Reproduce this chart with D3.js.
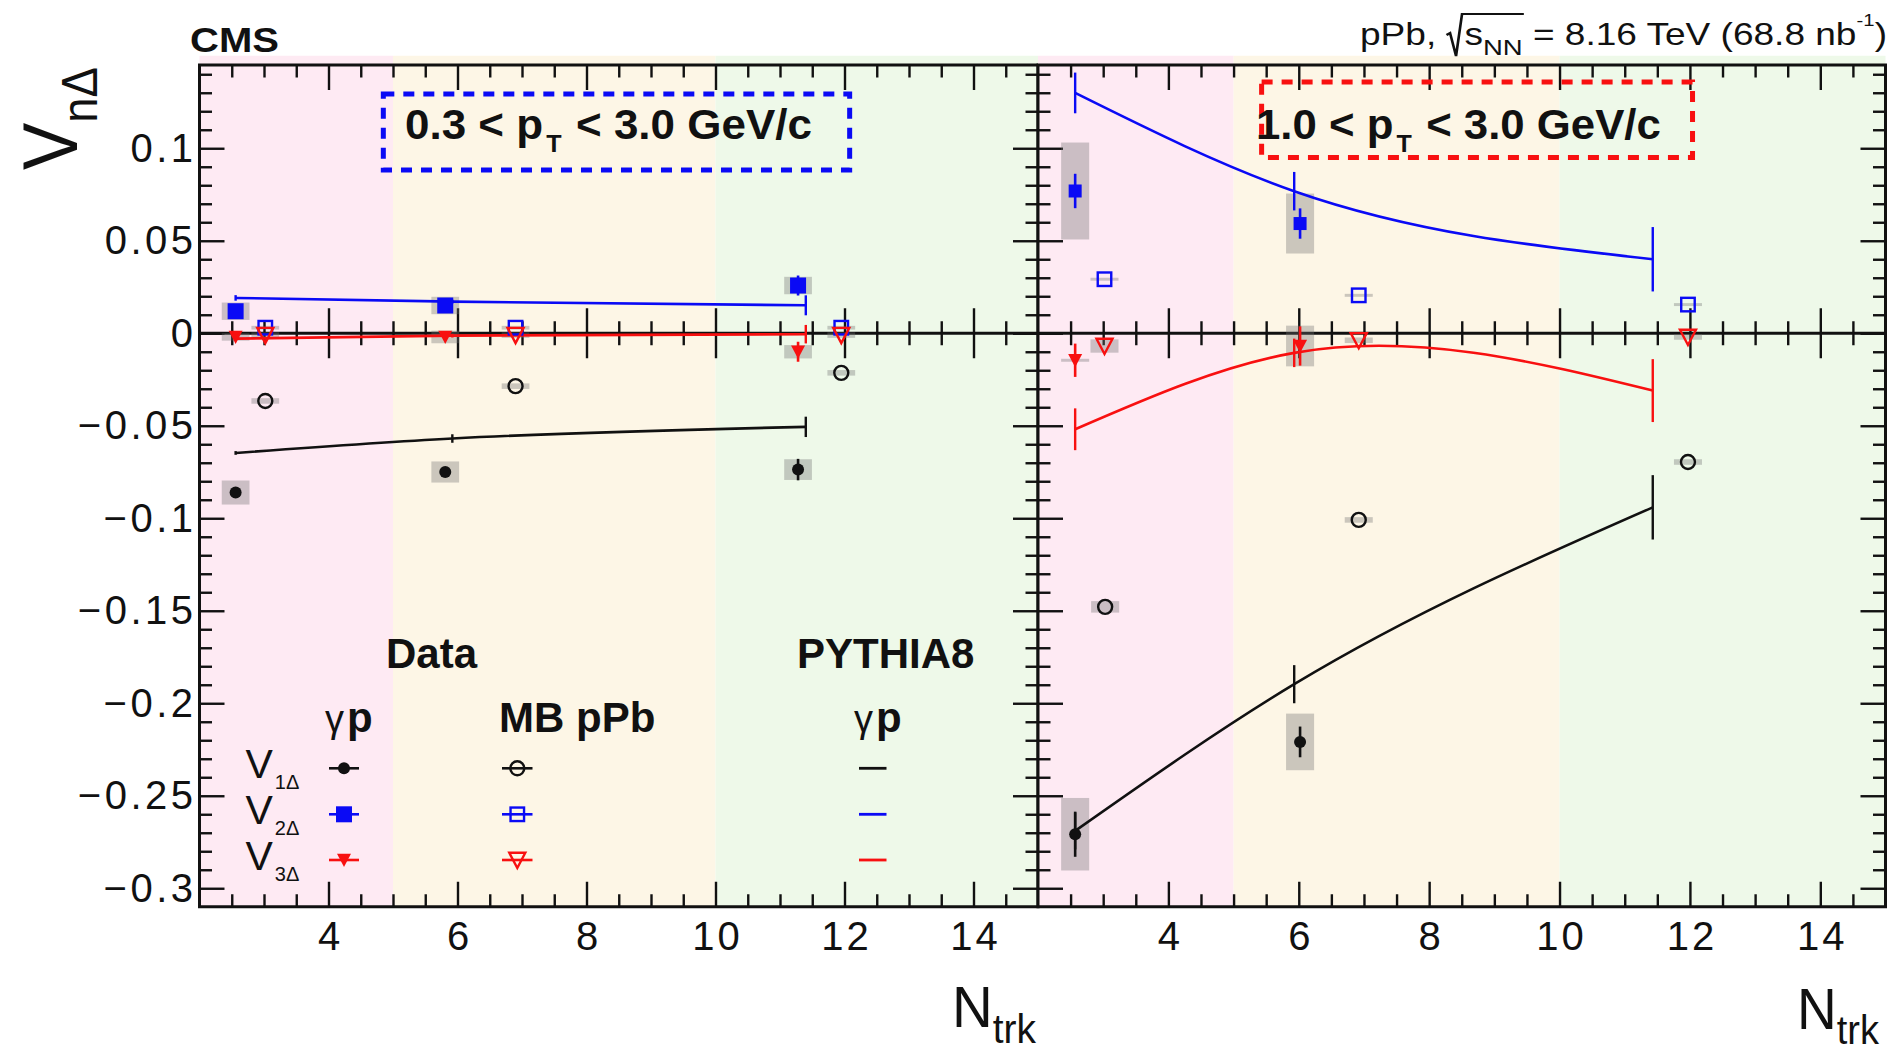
<!DOCTYPE html>
<html>
<head>
<meta charset="utf-8">
<script src="https://cdn.jsdelivr.net/npm/d3@7"></script>
<style>
  html, body { margin: 0; padding: 0; background: #fff; }
  svg { display: block; }
  text { font-family: "Liberation Sans", Arial, Helvetica, sans-serif; white-space: pre; }
</style>
</head>
<body>
<svg id="chart" width="1892" height="1053"></svg>
<script>
// ---------------- axis ticks ----------------
const xTicks = [4, 6, 8, 10, 12, 14];
const yTicks = [-0.3, -0.25, -0.2, -0.15, -0.1, -0.05, 0, 0.05, 0.1];
const yTickLabels = ["\u22120.3", "\u22120.25", "\u22120.2", "\u22120.15", "\u22120.1", "\u22120.05", "0", "0.05", "0.1"];

// multiplicity classes shaded in the background
const bandEdges = [[2, 5], [5, 10], [10, 15]];
const bandColors = ["#feeaf3", "#fdf6e6", "#eef9e9"];

// ---------------- 0.3 < pT < 3.0 GeV/c ----------------
// data, gamma p: [Ntrk, value, stat, sys]
const lowDataV1 = [[2.56, -0.0861, 0.002, 0.0065], [5.81, -0.0750, 0.002, 0.0057], [11.28, -0.0737, 0.0058, 0.0056]];
const lowDataV2 = [[2.56, 0.0119, 0.002, 0.0047], [5.81, 0.0150, 0.002, 0.0047], [11.28, 0.0258, 0.0054, 0.0047]];
const lowDataV3 = [[2.56, -0.0020, 0.002, 0.0020], [5.81, -0.0020, 0.002, 0.0034], [11.28, -0.0100, 0.0054, 0.0036]];
// data, minimum-bias pPb
const lowMbV1 = [[3.02, -0.0366, 0.001, 0.0015], [6.90, -0.0286, 0.001, 0.0015], [11.95, -0.0214, 0.001, 0.0015]];
const lowMbV2 = [[3.02, 0.0030, 0.001, 0.0010], [6.90, 0.0030, 0.001, 0.0010], [11.95, 0.0030, 0.001, 0.0010]];
const lowMbV3 = [[3.02, -0.0010, 0.001, 0.0015], [6.90, -0.0010, 0.001, 0.0015], [11.95, -0.0010, 0.001, 0.0015]];
// PYTHIA8 gamma p: [Ntrk, value, stat]
const lowPyV1 = [[2.56, -0.0647, 0.0010], [5.92, -0.0569, 0.0023], [11.40, -0.0506, 0.0055]];
const lowPyV2 = [[2.56, 0.0191, 0.0015], [5.92, 0.0171, 0.0010], [11.40, 0.0151, 0.0054]];
const lowPyV3 = [[2.56, -0.0029, 0.0010], [5.92, -0.0013, 0.0010], [11.40, -0.0005, 0.0050]];

// ---------------- 1.0 < pT < 3.0 GeV/c ----------------
const highDataV1 = [[2.57, -0.2708, 0.0122, 0.0196], [6.02, -0.2209, 0.0083, 0.0153]];
const highDataV2 = [[2.57, 0.0769, 0.0093, 0.0262], [6.02, 0.0593, 0.0082, 0.0162]];
const highDataV3 = [[2.57, -0.0146, 0.0090, 0.0008], [6.02, -0.0069, 0.0106, 0.0110]];
const highMbV1 = [[3.03, -0.1479, 0.001, 0.0031], [6.92, -0.1009, 0.001, 0.0015], [11.97, -0.0696, 0.001, 0.0015]];
const highMbV2 = [[3.02, 0.0292, 0.001, 0.0008], [6.92, 0.0205, 0.001, 0.0008], [11.97, 0.0155, 0.001, 0.0008]];
const highMbV3 = [[3.02, -0.0069, 0.001, 0.0036], [6.92, -0.0038, 0.001, 0.0015], [11.97, -0.0020, 0.001, 0.0015]];
const highPyV1 = [[2.57, -0.2690, 0.0100], [5.93, -0.1897, 0.0103], [11.43, -0.0941, 0.0174]];
const highPyV2 = [[2.57, 0.1299, 0.0110], [5.93, 0.0768, 0.0104], [11.43, 0.0400, 0.0174]];
const highPyV3 = [[2.57, -0.0519, 0.0113], [5.93, -0.0106, 0.0077], [11.43, -0.0310, 0.0170]];

// ---------------- styles ----------------
const harmonicColors = ["#111111", "#0a0af5", "#f81010"];
const harmonicShapes = ["circle", "square", "triangle"];
const INK = "#111";
const SYS_DX = 0.215;         // half-width of systematic boxes in Ntrk units
const SYS_FILL = "#727272";
const openSizes = [14, 13.5, 16];

const svg = d3.select("#chart");
const y = d3.scaleLinear().domain([-0.31, 0.145]).range([906.75, 65]);
const yTop = y.range()[1], yBottom = y.range()[0];

const panels = [
  { range: [199.5, 1038], data: [lowDataV1, lowDataV2, lowDataV3], mb: [lowMbV1, lowMbV2, lowMbV3],
    py: [lowPyV1, lowPyV2, lowPyV3], squareSize: 16, yLabels: true },
  { range: [1038, 1885.5], data: [highDataV1, highDataV2, highDataV3], mb: [highMbV1, highMbV2, highMbV3],
    py: [highPyV1, highPyV2, highPyV3], squareSize: 13, yLabels: false }
];

const xMinor = d3.range(2.5, 15, 0.5).filter(v => !xTicks.includes(v));
const yMinor = d3.range(-30, 15).map(i => i / 100).filter(v => !yTicks.some(t => Math.abs(t - v) < 1e-9));

// natural cubic spline y(x) through the points, emitted as Bezier segments
function curveNaturalX(context) {
  let pts = [];
  return {
    areaStart() {}, areaEnd() {},
    lineStart() { pts = []; },
    point(px, py) { pts.push([+px, +py]); },
    lineEnd() {
      const n = pts.length;
      if (!n) return;
      context.moveTo(pts[0][0], pts[0][1]);
      if (n === 2) { context.lineTo(pts[1][0], pts[1][1]); return; }
      const h = [], s = [];
      for (let i = 0; i < n - 1; i++) {
        h.push(pts[i + 1][0] - pts[i][0]);
        s.push((pts[i + 1][1] - pts[i][1]) / h[i]);
      }
      const a = [], b = [], c = [], r = [];
      for (let i = 1; i < n - 1; i++) {
        a.push(h[i - 1]); b.push(2 * (h[i - 1] + h[i])); c.push(h[i]); r.push(6 * (s[i] - s[i - 1]));
      }
      const m = b.length;
      for (let i = 1; i < m; i++) {
        const w = a[i] / b[i - 1];
        b[i] -= w * c[i - 1]; r[i] -= w * r[i - 1];
      }
      const sol = new Array(m);
      sol[m - 1] = r[m - 1] / b[m - 1];
      for (let i = m - 2; i >= 0; i--) sol[i] = (r[i] - c[i] * sol[i + 1]) / b[i];
      const M = [0, ...sol, 0];
      for (let i = 0; i < n - 1; i++) {
        const d0 = s[i] - h[i] * (2 * M[i] + M[i + 1]) / 6;
        const d1 = s[i] + h[i] * (M[i] + 2 * M[i + 1]) / 6;
        context.bezierCurveTo(
          pts[i][0] + h[i] / 3, pts[i][1] + d0 * h[i] / 3,
          pts[i + 1][0] - h[i] / 3, pts[i + 1][1] - d1 * h[i] / 3,
          pts[i + 1][0], pts[i + 1][1]);
      }
    }
  };
}

function tickGroup(parent, axis, transform) {
  const g = parent.append("g").attr("transform", transform).call(axis);
  g.select(".domain").remove();
  g.selectAll(".tick line").attr("stroke", INK).attr("stroke-width", 2.4);
  return g;
}

function marker(g, shape, filled, cx, cy, color, s) {
  let el;
  if (shape === "circle") {
    el = g.append("circle").attr("cx", cx).attr("cy", cy).attr("r", s / 2);
  } else if (shape === "square") {
    el = g.append("rect").attr("x", cx - s / 2).attr("y", cy - s / 2).attr("width", s).attr("height", s);
  } else {
    el = g.append("path").attr("d",
      `M${cx - s / 2},${cy - s * 0.45}L${cx + s / 2},${cy - s * 0.45}L${cx},${cy + s * 0.5}Z`);
  }
  if (filled) el.attr("fill", color).attr("stroke", "none");
  else el.attr("fill", "none").attr("stroke", color).attr("stroke-width", 2.4);
  return el;
}

// vertical error bar drawn only outside the marker
function errorBar(g, cx, yLo, yHi, cy, gap, color, w) {
  if (yHi < cy - gap) g.append("line").attr("x1", cx).attr("x2", cx).attr("y1", yHi).attr("y2", cy - gap)
    .attr("stroke", color).attr("stroke-width", w);
  if (yLo > cy + gap) g.append("line").attr("x1", cx).attr("x2", cx).attr("y1", cy + gap).attr("y2", yLo)
    .attr("stroke", color).attr("stroke-width", w);
}

// text made of runs (sizes / baseline shifts), optionally squeezed to a target width
function richText(parent, runs, opts) {
  const g = parent.append("g");
  const inner = g.append("g");
  let cx = 0;
  runs.forEach(r => {
    if (r.gap !== undefined) { cx += r.gap; return; }
    const t = inner.append("text").attr("x", cx).attr("y", r.dy || 0)
      .attr("font-size", r.size).attr("fill", opts.fill || INK).text(r.t);
    if (r.bold) t.attr("font-weight", "bold");
    if (r.family) t.attr("font-family", r.family);
    r.x0 = cx;
    cx += t.node().getComputedTextLength();
    r.x1 = cx;
  });
  const sx = opts.width ? opts.width / cx : 1;
  const tx = opts.anchor === "end" ? opts.x - cx * sx : opts.x;
  g.attr("transform", `translate(${tx},${opts.y})` + (opts.rotate ? ` rotate(${opts.rotate})` : ""));
  inner.attr("transform", `scale(${sx},1)`);
  return { g, inner, runs };
}

panels.forEach(p => {
  const x = d3.scaleLinear().domain([2, 15]).range(p.range);
  const g = svg.append("g");

  // background classes
  g.selectAll("rect.band").data(bandEdges).join("rect")
    .attr("x", d => x(d[0])).attr("width", d => x(d[1]) - x(d[0]))
    .attr("y", y(0.15)).attr("height", y(-0.31) - y(0.15))
    .attr("fill", (d, i) => bandColors[i]);

  // zero line with ticks on both sides
  g.append("line").attr("x1", p.range[0]).attr("x2", p.range[1])
    .attr("y1", y(0)).attr("y2", y(0)).attr("stroke", INK).attr("stroke-width", 3);
  tickGroup(g, d3.axisTop(x).tickValues(xTicks).tickSize(25).tickFormat(""), `translate(0,${y(0)})`);
  tickGroup(g, d3.axisBottom(x).tickValues(xTicks).tickSize(25).tickFormat(""), `translate(0,${y(0)})`);
  tickGroup(g, d3.axisTop(x).tickValues(xMinor).tickSize(12).tickFormat(""), `translate(0,${y(0)})`);
  tickGroup(g, d3.axisBottom(x).tickValues(xMinor).tickSize(12).tickFormat(""), `translate(0,${y(0)})`);

  // frame ticks
  const bottom = tickGroup(g, d3.axisBottom(x).tickValues(xTicks).tickSize(-25).tickPadding(15)
    .tickFormat(d3.format("d")), `translate(0,${yBottom})`);
  bottom.selectAll(".tick text").attr("font-size", 40).attr("fill", INK)
    .attr("font-family", "Liberation Sans, Arial, sans-serif").attr("letter-spacing", "3px").attr("dx", "1.5");
  tickGroup(g, d3.axisBottom(x).tickValues(xMinor).tickSize(-12.5).tickFormat(""), `translate(0,${yBottom})`);
  tickGroup(g, d3.axisTop(x).tickValues(xTicks).tickSize(-25).tickFormat(""), `translate(0,${yTop})`);
  tickGroup(g, d3.axisTop(x).tickValues(xMinor).tickSize(-12.5).tickFormat(""), `translate(0,${yTop})`);

  const left = tickGroup(g, d3.axisLeft(y).tickValues(yTicks).tickSize(-25).tickPadding(3)
    .tickFormat((d, i) => p.yLabels ? yTickLabels[i] : ""), `translate(${p.range[0]},0)`);
  left.selectAll(".tick text").attr("font-size", 40).attr("fill", INK)
    .attr("font-family", "Liberation Sans, Arial, sans-serif").attr("letter-spacing", "3.5px");
  tickGroup(g, d3.axisLeft(y).tickValues(yMinor).tickSize(-12.5).tickFormat(""), `translate(${p.range[0]},0)`);
  tickGroup(g, d3.axisRight(y).tickValues(yTicks).tickSize(-25).tickFormat(""), `translate(${p.range[1]},0)`);
  tickGroup(g, d3.axisRight(y).tickValues(yMinor).tickSize(-12.5).tickFormat(""), `translate(${p.range[1]},0)`);

  // systematic boxes
  const sysG = g.append("g").attr("fill", SYS_FILL).attr("fill-opacity", 0.36);
  [...p.mb, ...p.data].forEach(series => {
    sysG.selectAll(null).data(series).join("rect")
      .attr("x", d => x(d[0] - SYS_DX)).attr("width", d => x(d[0] + SYS_DX) - x(d[0] - SYS_DX))
      .attr("y", d => y(d[1] + d[3])).attr("height", d => y(d[1] - d[3]) - y(d[1] + d[3]));
  });

  // PYTHIA8 curves with their uncertainties
  const line = d3.line().x(d => x(d[0])).y(d => y(d[1])).curve(curveNaturalX);
  p.py.forEach((series, i) => {
    g.append("path").datum(series).attr("d", line).attr("fill", "none")
      .attr("stroke", harmonicColors[i]).attr("stroke-width", 2.6);
    g.selectAll(null).data(series).join("line")
      .attr("x1", d => x(d[0])).attr("x2", d => x(d[0]))
      .attr("y1", d => y(d[1] - d[2])).attr("y2", d => y(d[1] + d[2]))
      .attr("stroke", harmonicColors[i]).attr("stroke-width", 2.4);
  });

  // minimum-bias pPb (open markers)
  p.mb.forEach((series, i) => {
    series.forEach(d => {
      errorBar(g, x(d[0]), y(d[1] - d[2]), y(d[1] + d[2]), y(d[1]), openSizes[i] / 2, harmonicColors[i], 2);
      marker(g, harmonicShapes[i], false, x(d[0]), y(d[1]), harmonicColors[i], openSizes[i]);
    });
  });

  // gamma p data (filled markers)
  p.data.forEach((series, i) => {
    const sizes = [12, p.squareSize, 14];
    series.forEach(d => {
      g.append("line").attr("x1", x(d[0])).attr("x2", x(d[0]))
        .attr("y1", y(d[1] - d[2])).attr("y2", y(d[1] + d[2]))
        .attr("stroke", harmonicColors[i]).attr("stroke-width", 2.6);
      marker(g, harmonicShapes[i], true, x(d[0]), y(d[1]), harmonicColors[i], sizes[i]);
    });
  });

  // frame
  g.append("rect").attr("x", p.range[0]).attr("y", yTop)
    .attr("width", p.range[1] - p.range[0]).attr("height", yBottom - yTop)
    .attr("fill", "none").attr("stroke", INK).attr("stroke-width", 3);
});

// ---------------- pT range boxes ----------------
const xl = d3.scaleLinear().domain([2, 15]).range(panels[0].range);
const xr = d3.scaleLinear().domain([2, 15]).range(panels[1].range);

svg.append("rect").attr("x", xl(4.85)).attr("y", 94).attr("width", xl(12.08) - xl(4.85)).attr("height", 76)
  .attr("fill", "none").attr("stroke", "#0a0af5").attr("stroke-width", 5).attr("stroke-dasharray", "11 9");
svg.append("rect").attr("x", xr(5.43)).attr("y", 82).attr("width", xr(12.04) - xr(5.43)).attr("height", 75.5)
  .attr("fill", "none").attr("stroke", "#f81010").attr("stroke-width", 5).attr("stroke-dasharray", "11 9");

richText(svg, [{ t: "0.3 < p", size: 42, bold: true }, { gap: 3 }, { t: "T", size: 24, bold: true, dy: 13 },
  { gap: 2 }, { t: " < 3.0 GeV/c", size: 42, bold: true }], { x: 405, y: 139, width: 407 });
richText(svg, [{ t: "1.0 < p", size: 42, bold: true }, { gap: 3 }, { t: "T", size: 24, bold: true, dy: 13 },
  { gap: 2 }, { t: " < 3.0 GeV/c", size: 42, bold: true }], { x: 1256, y: 139, width: 405 });

// ---------------- titles ----------------
richText(svg, [{ t: "CMS", size: 36, bold: true }], { x: 190, y: 52, width: 89 });

const hdr = richText(svg, [
  { t: "pPb, ", size: 31 }, { gap: 15 }, { t: "s", size: 31 }, { t: "NN", size: 23, dy: 10 },
  { t: " = 8.16 TeV (68.8 nb", size: 31 }, { t: "-1", size: 17, dy: -19 }, { t: ")", size: 31 }
], { x: 1887, y: 45, anchor: "end", width: 527 });
{
  const s = hdr.runs[2], nn = hdr.runs[3];
  const rx = s.x0 - 15;
  hdr.inner.append("path")
    .attr("d", `M${rx},-10L${rx + 3},-12L${rx + 8},11L${rx + 13},-31L${nn.x1 + 1},-31`)
    .attr("fill", "none").attr("stroke", INK).attr("stroke-width", 2.2);
}

// y title, rotated
richText(svg, [{ t: "V", size: 78 }, { t: "n\u0394", size: 50, dy: 20 }],
  { x: 77, y: 170, rotate: -90, width: 103 });

// x titles
richText(svg, [{ t: "N", size: 58 }, { t: "trk", size: 40, dy: 16 }], { x: 1036, y: 1027, anchor: "end", width: 84 });
richText(svg, [{ t: "N", size: 58 }, { t: "trk", size: 40, dy: 15 }], { x: 1879, y: 1029, anchor: "end", width: 82 });

// ---------------- legend ----------------
const legendRows = ["1", "2", "3"];
const legendY = [768.3, 814.3, 860];
const legendBaselines = [778.3, 824, 870];

svg.append("text").attr("x", 386).attr("y", 668).attr("font-size", 42).attr("font-weight", "bold")
  .attr("fill", INK).text("Data");
svg.append("text").attr("x", 797).attr("y", 668).attr("font-size", 42).attr("font-weight", "bold")
  .attr("fill", INK).text("PYTHIA8");
svg.append("text").attr("x", 499).attr("y", 732).attr("font-size", 42).attr("font-weight", "bold")
  .attr("fill", INK).text("MB pPb");
[[325, 347], [854, 876]].forEach(([gx, px]) => {
  svg.append("text").attr("x", gx).attr("y", 732).attr("font-size", 38)
    .attr("font-family", "Liberation Serif, serif").attr("fill", INK).text("\u03b3");
  svg.append("text").attr("x", px).attr("y", 732).attr("font-size", 42).attr("font-weight", "bold")
    .attr("fill", INK).text("p");
});

legendRows.forEach((n, i) => {
  richText(svg, [{ t: "V", size: 41 }, { gap: 2 }, { t: n + "\u0394", size: 20, dy: 11 }],
    { x: 245.5, y: legendBaselines[i] });
  const c = harmonicColors[i], yy = legendY[i];
  // data column
  svg.append("line").attr("x1", 329).attr("x2", 359).attr("y1", yy).attr("y2", yy)
    .attr("stroke", c).attr("stroke-width", 2.6);
  marker(svg, harmonicShapes[i], true, 344, yy, c, [12, 16, 14][i]);
  // MB column
  svg.append("line").attr("x1", 502).attr("x2", 532.5).attr("y1", yy).attr("y2", yy)
    .attr("stroke", c).attr("stroke-width", 2.6);
  marker(svg, harmonicShapes[i], false, 517.3, yy, c, openSizes[i]);
  // PYTHIA column
  svg.append("line").attr("x1", 859).attr("x2", 886.5).attr("y1", yy).attr("y2", yy)
    .attr("stroke", c).attr("stroke-width", 2.8);
});
</script>
</body>
</html>
